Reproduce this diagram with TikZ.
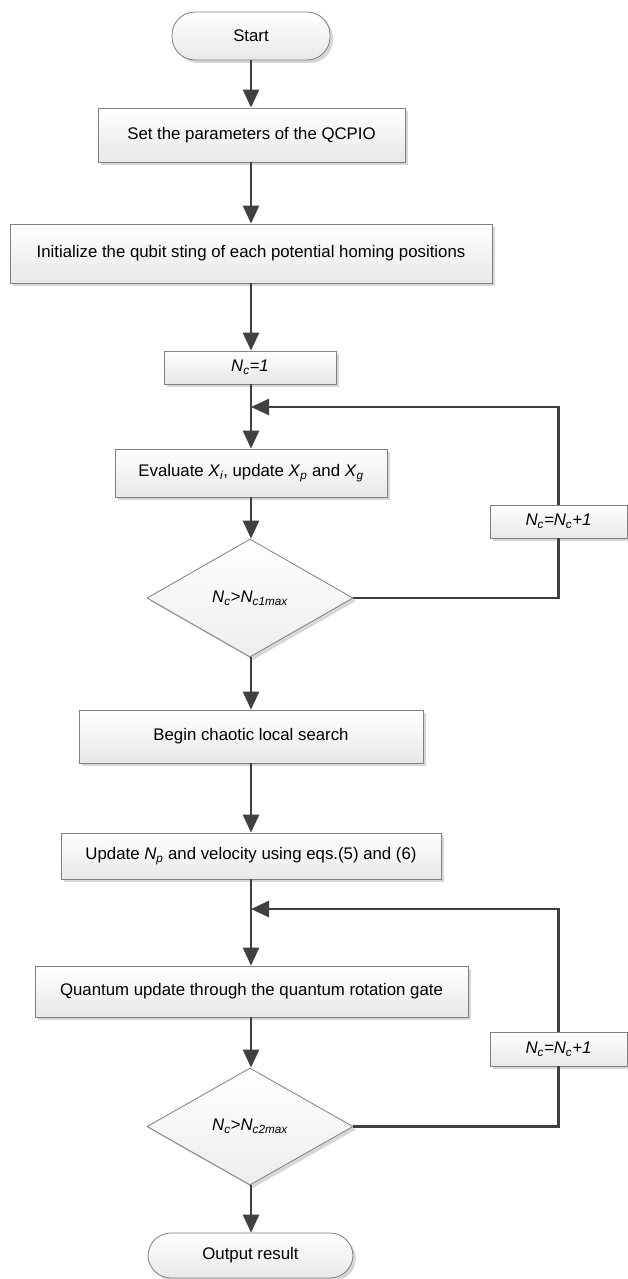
\documentclass[tikz,border=0pt]{standalone}
\usepackage{fontspec}
\setmainfont{Liberation Sans}
\usetikzlibrary{arrows.meta,shapes.geometric,shadows}
\newcommand{\sbs}[1]{\textsubscript{\itshape #1}}
\begin{document}
\begin{tikzpicture}[x=1pt,y=1pt,
  base/.style={draw=black!50, line width=0.8pt, top color=white, bottom color=black!9,
    drop shadow={shadow xshift=3pt, shadow yshift=-3pt, fill=black!22, opacity=0.7},
    inner sep=0pt, font=\fontsize{16.8}{20}\selectfont, anchor=center},
  procbox/.style={base, rectangle},
  term/.style={base, rectangle, rounded corners=23pt},
  decide/.style={base, diamond, aspect=1.75, top color=white, bottom color=black!7},
  conn/.style={draw=black!75, line width=2.6pt},
  arr/.style={conn, -{Triangle[length=18pt,width=16pt]}}
]
\useasboundingbox (0,0) rectangle (628,-1279);
\fill[white] (0,0) rectangle (628,-1279);

\node[term, minimum width=158pt, minimum height=48pt] (start) at (251,-36) {Start};
\node[procbox, minimum width=307pt, minimum height=54pt] (set) at (251.5,-135) {Set the parameters of the QCPIO};
\node[procbox, minimum width=482pt, minimum height=59pt] (init) at (251,-253.5) {Initialize the qubit sting of each potential homing positions};
\node[procbox, minimum width=172pt, minimum height=33pt] (nc1) at (250,-367.5) {\itshape N\sbs{c}=1};
\node[procbox, minimum width=272pt, minimum height=48pt] (eval) at (251,-473) {Evaluate \textit{X}\sbs{i}, update \textit{X}\sbs{p} and \textit{X}\sbs{g}};
\node[procbox, minimum width=137pt, minimum height=33pt] (inc1) at (558.5,-521.5) {\itshape N\sbs{c}=N\sbs{c}+1};
\node[decide, minimum width=206pt, minimum height=118pt] (d1) at (250,-598) {\itshape N\sbs{c}>N\sbs{c1max}};
\node[procbox, minimum width=344pt, minimum height=53pt] (begin) at (251,-736.5) {Begin chaotic local search};
\node[procbox, minimum width=380pt, minimum height=46pt] (upd) at (251,-856) {Update \textit{N}\sbs{p} and velocity using eqs.(5) and (6)};
\node[procbox, minimum width=433pt, minimum height=51pt] (quant) at (251.5,-991.5) {Quantum update through the quantum rotation gate};
\node[procbox, minimum width=137pt, minimum height=34pt] (inc2) at (558.5,-1049) {\itshape N\sbs{c}=N\sbs{c}+1};
\node[decide, minimum width=206pt, minimum height=117pt] (d2) at (250,-1126.5) {\itshape N\sbs{c}>N\sbs{c2max}};
\node[term, minimum width=205pt, minimum height=45pt] (out) at (250.5,-1255.5) {Output result};

\coordinate (j1) at (251,-407);
\coordinate (j2) at (251,-909);

\draw[arr] (start.south) -- (start.south |- set.north);
\draw[arr] (set.south -| start.south) -- (start.south |- init.north);
\draw[arr] (init.south -| start.south) -- (start.south |- nc1.north);
\draw[arr] (nc1.south -| start.south) -- (start.south |- eval.north);
\draw[arr] (eval.south -| start.south) -- (start.south |- d1.north);
\draw[conn] (d1.east) -| (inc1.south);
\draw[arr] (inc1.north) |- (j1);
\draw[arr] (d1.south -| start.south) -- (start.south |- begin.north);
\draw[arr] (begin.south -| start.south) -- (start.south |- upd.north);
\draw[arr] (upd.south -| start.south) -- (start.south |- quant.north);
\draw[arr] (quant.south -| start.south) -- (start.south |- d2.north);
\draw[conn] (d2.east) -| (inc2.south);
\draw[arr] (inc2.north) |- (j2);
\draw[arr] (d2.south -| start.south) -- (start.south |- out.north);
\end{tikzpicture}
\end{document}
